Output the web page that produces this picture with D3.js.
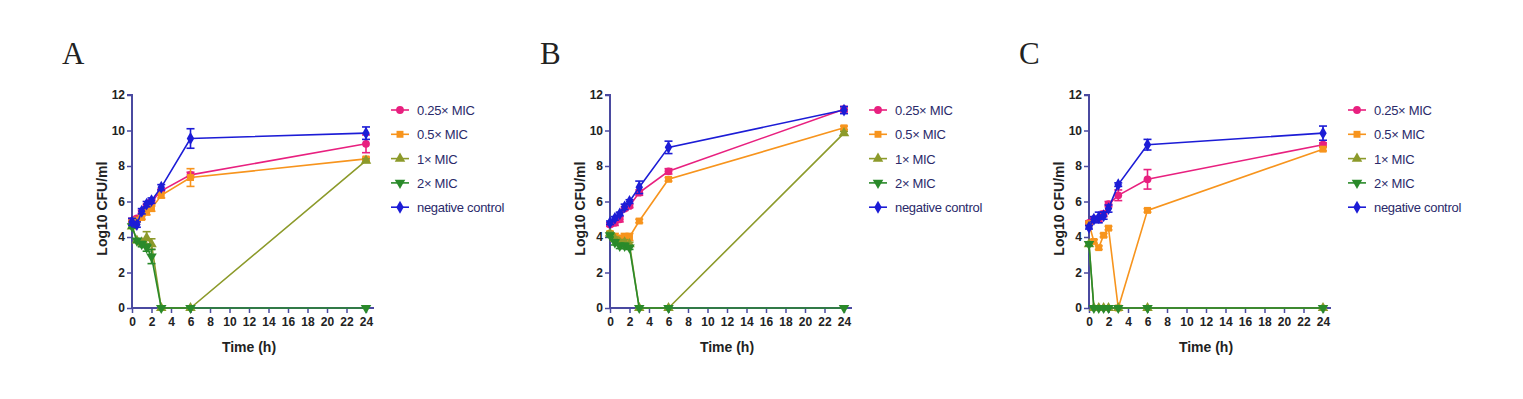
<!DOCTYPE html>
<html>
<head>
<meta charset="utf-8">
<script src="https://cdn.jsdelivr.net/npm/d3@7"></script>
<style>
  body { margin: 0; background: #fff; }
  text { font-family: "Liberation Sans Narrow", "Liberation Sans", Arial, sans-serif; }
</style>
</head>
<body>
<script>

var w = 1523;
var h = 399;

var times = [0, 0.5, 1, 1.5, 2, 3, 6, 24];
var seriesNames = ["0.25\u00d7 MIC", "0.5\u00d7 MIC", "1\u00d7 MIC", "2\u00d7 MIC", "negative control"];
var panelLabels = ["A", "B", "C"];
var xTicks = [0, 2, 4, 6, 8, 10, 12, 14, 16, 18, 20, 22, 24];
var yTicks = [0, 2, 4, 6, 8, 10, 12];

// panel A
var a025 = [4.9, 5.05, 5.4, 5.75, 6.0, 6.6, 7.5, 9.25];
var a05  = [4.8, 4.95, 5.1, 5.4, 5.6, 6.35, 7.35, 8.4];
var a1   = [4.6, 3.8, 3.7, 3.95, 3.6, 0, 0, 8.3];
var a2   = [4.6, 3.8, 3.6, 3.4, 2.9, 0, 0, 0];
var aNeg = [4.85, 4.7, 5.45, 5.85, 6.05, 6.8, 9.55, 9.85];
var a025Err = [0.15, 0.1, 0.1, 0.1, 0.1, 0.1, 0.15, 0.5];
var a05Err  = [0.1, 0.1, 0.1, 0.15, 0.15, 0.15, 0.5, 0.1];
var a1Err   = [0.1, 0.1, 0.2, 0.35, 0.3, 0, 0, 0.1];
var a2Err   = [0.1, 0.1, 0.15, 0.2, 0.4, 0, 0, 0];
var aNegErr = [0.2, 0.15, 0.15, 0.15, 0.15, 0.15, 0.55, 0.35];

// panel B
var b025 = [4.7, 4.8, 5.0, 5.6, 5.75, 6.5, 7.7, 11.2];
var b05  = [4.2, 4.0, 3.9, 4.0, 4.0, 4.9, 7.25, 10.15];
var b1   = [4.2, 3.9, 3.7, 3.7, 3.6, 0, 0, 9.85];
var b2   = [4.1, 3.7, 3.5, 3.5, 3.4, 0, 0, 0];
var bNeg = [4.8, 5.05, 5.3, 5.7, 6.0, 6.8, 9.05, 11.15];
var b025Err = [0.1, 0.15, 0.15, 0.1, 0.1, 0.15, 0.15, 0.15];
var b05Err  = [0.1, 0.2, 0.2, 0.2, 0.2, 0.1, 0.1, 0.1];
var b1Err   = [0.1, 0.1, 0.15, 0.15, 0.1, 0, 0, 0.1];
var b2Err   = [0.1, 0.15, 0.15, 0.15, 0.1, 0, 0, 0];
var bNegErr = [0.1, 0.1, 0.1, 0.15, 0.1, 0.35, 0.35, 0.2];

// panel C
var c025 = [4.8, 5.0, 5.0, 5.3, 5.85, 6.35, 7.25, 9.2];
var c05  = [4.75, 3.75, 3.4, 4.1, 4.5, 0, 5.5, 8.95];
var c1   = [3.6, 0, 0, 0, 0, 0, 0, 0];
var c2   = [3.6, 0, 0, 0, 0, 0, 0, 0];
var cNeg = [4.55, 5.0, 5.1, 5.2, 5.6, 6.95, 9.2, 9.85];
var c025Err = [0.1, 0.1, 0.15, 0.15, 0.15, 0.3, 0.55, 0.1];
var c05Err  = [0.1, 0.1, 0.1, 0.1, 0.1, 0, 0.1, 0.1];
var c1Err   = [0.1, 0, 0, 0, 0, 0, 0, 0];
var c2Err   = [0.1, 0, 0, 0, 0, 0, 0, 0];
var cNegErr = [0.1, 0.15, 0.3, 0.2, 0.2, 0.1, 0.3, 0.4];

var panelData = [
  { vals: [a025, a05, a1, a2, aNeg], errs: [a025Err, a05Err, a1Err, a2Err, aNegErr] },
  { vals: [b025, b05, b1, b2, bNeg], errs: [b025Err, b05Err, b1Err, b2Err, bNegErr] },
  { vals: [c025, c05, c1, c2, cNeg], errs: [c025Err, c05Err, c1Err, c2Err, cNegErr] }
];

var colors = ["#e8207f", "#f7941d", "#8c9a2a", "#2a8a2a", "#1c1cd6"];
var symbols = [d3.symbolCircle, d3.symbolSquare, d3.symbolTriangle, d3.symbolTriangle, d3.symbolDiamond];
var symRotate = [0, 0, 0, 180, 0];
var axisColor = "#4a4aa0";

var panelX = [132, 610, 1089];   // y axis position of each panel
var plotTop = 95, plotBottom = 308;

var svg = d3.select("body")
        .append("svg")
        .attr("width", w)
        .attr("height", h);

var x = d3.scaleLinear().domain([0, 24]).range([0, 234]);
var y = d3.scaleLinear().domain([0, 12]).range([plotBottom, plotTop]);

var sym = d3.symbol().size(48);

panelData.forEach(function(pd, p) {
  var g = svg.append("g")
          .attr("transform", "translate(" + panelX[p] + ",0)");

  // panel letter
  svg.append("text")
     .attr("x", panelX[p] - 70)
     .attr("y", 64)
     .attr("text-anchor", "start")
     .style("font-family", "'Liberation Serif', 'DejaVu Serif', serif")
     .style("font-size", "31px")
     .attr("fill", "#222")
     .text(panelLabels[p]);

  // axes
  var yAxis = g.append("g")
      .call(d3.axisLeft(y).tickValues(yTicks).tickSize(5).tickPadding(2));
  var xAxis = g.append("g")
      .attr("transform", "translate(0," + plotBottom + ")")
      .call(d3.axisBottom(x).tickValues(xTicks).tickSize(5).tickPadding(4));
  [xAxis, yAxis].forEach(function(ax) {
    ax.select(".domain").attr("stroke", axisColor).attr("stroke-width", 2);
    ax.selectAll(".tick line").attr("stroke", axisColor).attr("stroke-width", 1.5);
    ax.selectAll(".tick text")
      .attr("fill", "#222")
      .style("font-size", "12px")
      .style("font-weight", "bold")
      .style("font-family", "'Liberation Sans Narrow', 'Liberation Sans', Arial, sans-serif");
  });
  // x axis line runs a bit past 24
  xAxis.select(".domain").attr("d", "M0,0H" + (x(24) + 8));
  yAxis.select(".domain").attr("d", "M0," + y(0) + "V" + y(12) + "H-5");

  g.append("text")
   .attr("x", x(12))
   .attr("y", 352)
   .attr("text-anchor", "middle")
   .style("font-size", "14px")
   .style("font-weight", "bold")
   .attr("fill", "#222")
   .text("Time (h)");

  g.append("text")
   .attr("transform", "translate(-25," + y(5.6) + ") rotate(-90)")
   .attr("text-anchor", "middle")
   .style("font-size", "14px")
   .style("font-weight", "bold")
   .attr("fill", "#222")
   .text("Log10 CFU/ml");

  var line = d3.line()
      .x(function(d) { return x(d.t); })
      .y(function(d) { return y(d.v); });

  pd.vals.forEach(function(vals, s) {
    var pts = times.map(function(t, i) { return { t: t, v: vals[i], e: pd.errs[s][i] }; });
    var sg = g.append("g");

    sg.append("path")
      .datum(pts)
      .attr("fill", "none")
      .attr("stroke", colors[s])
      .attr("stroke-width", 1.6)
      .attr("d", line);

    var eb = sg.selectAll("g.err")
      .data(pts.filter(function(d) { return d.e > 0; }))
      .enter()
      .append("g")
      .attr("class", "err")
      .attr("stroke", colors[s])
      .attr("stroke-width", 1.6);
    eb.append("line")
      .attr("x1", function(d) { return x(d.t); })
      .attr("x2", function(d) { return x(d.t); })
      .attr("y1", function(d) { return y(d.v - d.e); })
      .attr("y2", function(d) { return y(d.v + d.e); });
    eb.append("line")
      .attr("x1", function(d) { return x(d.t) - 4; })
      .attr("x2", function(d) { return x(d.t) + 4; })
      .attr("y1", function(d) { return y(d.v - d.e); })
      .attr("y2", function(d) { return y(d.v - d.e); });
    eb.append("line")
      .attr("x1", function(d) { return x(d.t) - 4; })
      .attr("x2", function(d) { return x(d.t) + 4; })
      .attr("y1", function(d) { return y(d.v + d.e); })
      .attr("y2", function(d) { return y(d.v + d.e); });

    sg.selectAll("path.mark")
      .data(pts)
      .enter()
      .append("path")
      .attr("class", "mark")
      .attr("fill", colors[s])
      .attr("d", sym.type(symbols[s]))
      .attr("transform", function(d) {
        return "translate(" + x(d.t) + "," + y(d.v) + ") rotate(" + symRotate[s] + ")";
      });
  });

  // legend
  var lg = g.append("g")
      .attr("transform", "translate(268,110)");
  seriesNames.forEach(function(name, s) {
    var item = lg.append("g").attr("transform", "translate(0," + (s * 24.3) + ")");
    item.append("line")
        .attr("x1", -9).attr("x2", 9)
        .attr("stroke", colors[s]).attr("stroke-width", 1.6);
    item.append("path")
        .attr("fill", colors[s])
        .attr("d", sym.type(symbols[s]))
        .attr("transform", "rotate(" + symRotate[s] + ")");
    item.append("text")
        .attr("x", 17)
        .attr("y", 5)
        .style("font-size", "13px")
        .style("letter-spacing", "-0.3px")
        .attr("fill", "#2a2a6a")
        .text(name);
  });
});

</script>
</body>
</html>
